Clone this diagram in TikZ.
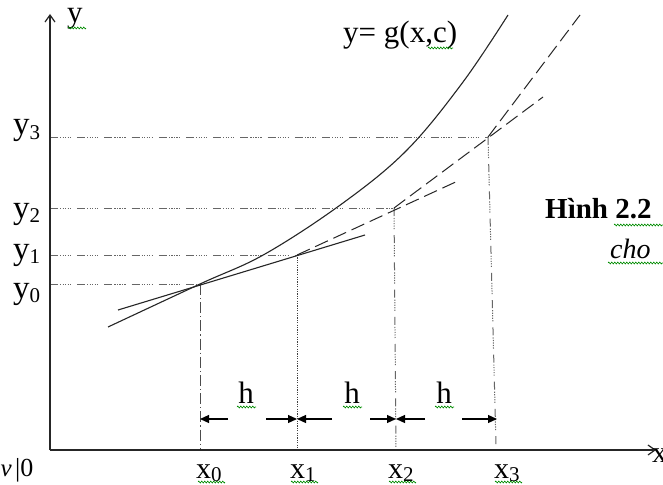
\documentclass[tikz,border=0pt]{standalone}
\usepackage{fontspec}
\setmainfont{Liberation Serif}
\usetikzlibrary{arrows.meta,decorations.pathmorphing}
\newcommand{\lsub}[1]{\raisebox{-0.28ex}{\fontsize{21}{21}\selectfont #1}}
\begin{document}
\begin{tikzpicture}[x=1pt,y=-1pt,
  axisline/.style={line width=1.4pt, black!85, -{Straight Barb[length=7pt,width=10pt,line width=1.2pt]}},
  hguide/.style={line width=1pt, black!60, dash pattern=on 8pt off 2pt on 1.2pt off 1.3pt on 1.2pt off 1.3pt on 1.2pt off 1.3pt on 1.2pt off 1.3pt on 1.2pt off 6pt},
  vdash/.style={line width=1pt, black!70, dash pattern=on 11pt off 3pt on 1.2pt off 3pt},
  vdot/.style={line width=1pt, black!75, dash pattern=on 1.2pt off 1.2pt},
  tang/.style={line width=1pt, black!85, dash pattern=on 14pt off 6pt},
  curveline/.style={line width=1.1pt, black!85},
  harrow/.style={line width=1.2pt, black, -{Triangle[length=9pt,width=8pt]}},
  lab/.style={inner sep=0pt, font=\fontsize{33}{33}\selectfont},
  xlab/.style={inner sep=0pt, font=\fontsize{30}{30}\selectfont},
  hlab/.style={inner sep=0pt, font=\fontsize{31}{31}\selectfont},
  squig/.style={green!55!black, line width=0.6pt, decorate, decoration={zigzag, segment length=3pt, amplitude=1pt}}
]
\useasboundingbox (0,0) rectangle (663,484);
\clip (0,0) rectangle (663,484);
\fill[white] (0,0) rectangle (663,484);

% key points
\coordinate (O) at (50,450);
\coordinate (Ytop) at (50,14);
\coordinate (Xend) at (656,450);
\coordinate (P0) at (200,284);
\coordinate (P1) at (297,255);
\coordinate (P2) at (394,208);
\coordinate (P3) at (488,137);
\coordinate (Y0) at (50,284);
\coordinate (Y1) at (50,255);
\coordinate (Y2) at (50,208);
\coordinate (Y3) at (50,137);
\coordinate (B0) at (200,450);
\coordinate (B1) at (297,450);
\coordinate (B2) at (396,450);
\coordinate (B3) at (496,445);
\coordinate (T0s) at (118,310);
\coordinate (T0e) at (365,235);
\coordinate (T1e) at (460,180);
\coordinate (T2e) at (543,97);
\coordinate (T3e) at (580,15);

% guides
\draw[hguide] (Y3) -- (P3);
\draw[hguide] (Y2) -- (P2);
\draw[hguide] (Y1) -- (P1);
\draw[hguide] (Y0) -- (P0);
\draw[vdash] (P0) -- (B0);
\draw[vdot] (P1) -- (B1);
\draw[hguide] (P2) -- (B2);
\draw[hguide] (P3) -- (B3);

% axes
\draw[axisline] (O) -- (Ytop);
\draw[axisline] (O) -- (Xend);

% curve and tangents
\draw[curveline] plot[smooth, tension=0.6] coordinates {(108,327) (200,284) (265,254) (343,203) (407,150) (463,82) (508,15)};
\draw[curveline] (T0s) -- (T0e);
\draw[tang] (P1) -- (T1e);
\draw[tang] (P2) -- (T2e);
\draw[tang] (P3) -- (T3e);

% h dimension arrows
\coordinate (H0) at (200,419);
\coordinate (H1) at (297,419);
\coordinate (H2) at (396,419);
\coordinate (H3) at (497,419);
\coordinate (a1) at (228,419);
\coordinate (a2) at (266,419);
\coordinate (a3) at (332,419);
\coordinate (a4) at (370,419);
\coordinate (a5) at (425,419);
\coordinate (a6) at (462,419);
\draw[harrow] (a1) -- (H0);
\draw[harrow] (a2) -- (H1);
\draw[harrow] (a3) -- (H1);
\draw[harrow] (a4) -- (H2);
\draw[harrow] (a5) -- (H2);
\draw[harrow] (a6) -- (H3);
\node[hlab, anchor=base] (h1) at (246,403) {h};
\node[hlab, anchor=base] (h2) at (352,403) {h};
\node[hlab, anchor=base] (h3) at (444,403) {h};
\draw[squig] (237,407) -- (256,407);
\draw[squig] (343,407) -- (362,407);
\draw[squig] (435,407) -- (454,407);

% axis labels
\node[hlab, anchor=base west] (ylab) at (67,23) {y};
\draw[squig] (68,28) -- (86,28);
\node[xlab, anchor=north west] (xlab) at (652,449) {x};
\node[inner sep=0pt, font=\fontsize{25}{25}\selectfont\itshape, anchor=base east] (vlab) at (12,476) {v};
\node[inner sep=0pt, font=\fontsize{26}{26}\selectfont, anchor=base west] (zlab) at (15,476) {|0};

% y labels
\node[lab, anchor=base west] (ly3) at (13,135) {y\lsub{3}};
\node[lab, anchor=base west] (ly2) at (13,218) {y\lsub{2}};
\node[lab, anchor=base west] (ly1) at (13,259) {y\lsub{1}};
\node[lab, anchor=base west] (ly0) at (13,298) {y\lsub{0}};

% x labels
\node[xlab, anchor=base west] (lx0) at (196,478) {x\lsub{0}};
\node[xlab, anchor=base west] (lx1) at (290,478) {x\lsub{1}};
\node[xlab, anchor=base west] (lx2) at (388,478) {x\lsub{2}};
\node[xlab, anchor=base west] (lx3) at (494,478) {x\lsub{3}};
\draw[squig] (198,482) -- (225,482);
\draw[squig] (291,482) -- (318,482);
\draw[squig] (389,482) -- (416,482);
\draw[squig] (495,482) -- (522,482);

% curve label
\node[inner sep=0pt, font=\fontsize{31}{31}\selectfont, anchor=base west] (glab) at (343,43) {y= g(x,c)};
\draw[squig] (428,48) -- (453,48);

% caption
\node[inner sep=0pt, font=\fontsize{29}{29}\selectfont\bfseries, anchor=base west] (cap) at (545,218) {Hình 2.2};
\draw[squig] (614,225) -- (663,225);
\node[inner sep=0pt, font=\fontsize{28}{28}\selectfont\itshape, anchor=base west] (cho) at (610,258) {cho};
\draw[squig] (608,263) -- (663,263);
\end{tikzpicture}
\end{document}
